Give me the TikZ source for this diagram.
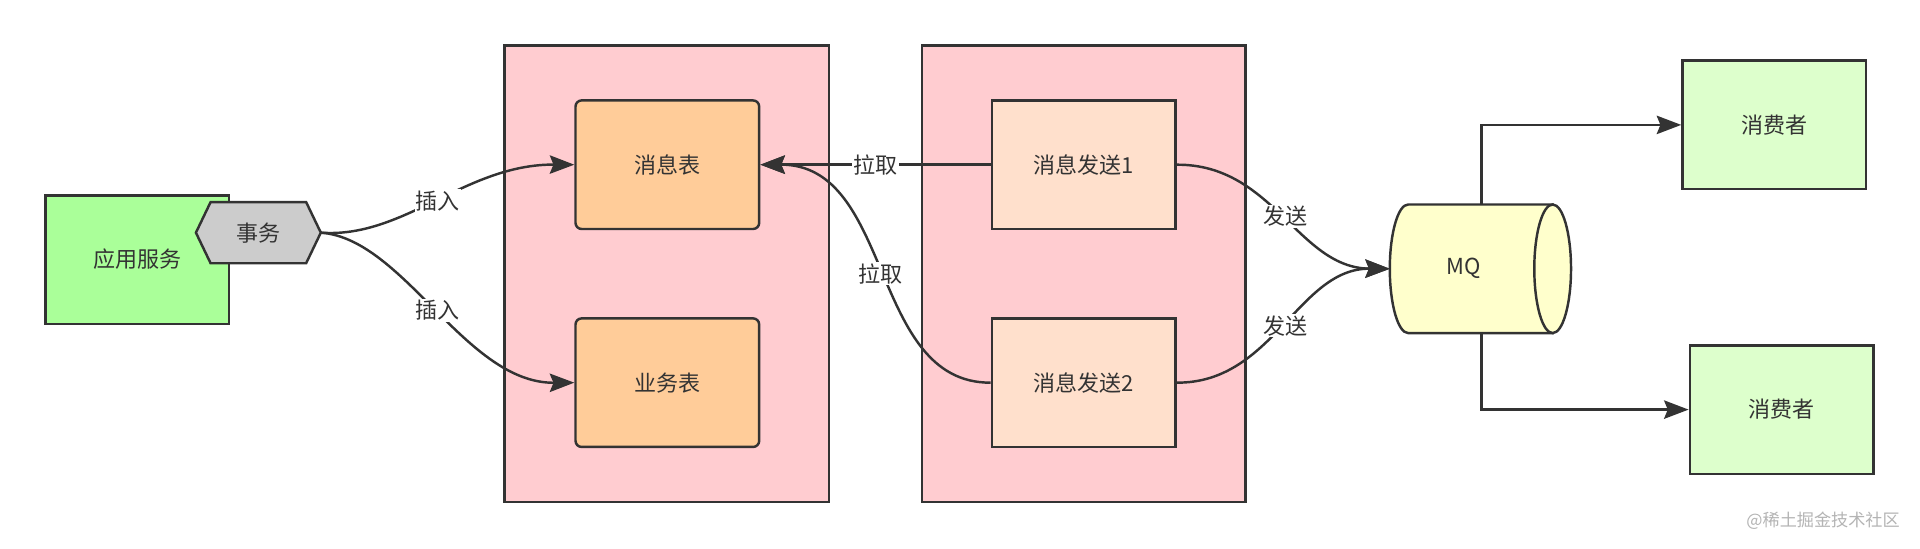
\documentclass[tikz,border=0pt]{standalone}
\usepackage{fontspec}
\setmainfont{Noto Sans CJK SC}
\usetikzlibrary{arrows.meta}
\definecolor{edge}{HTML}{333333}
\begin{document}
\begin{tikzpicture}[x=1pt,y=-1pt,
  box/.style={draw=edge,line width=2pt,minimum width=150pt,minimum height=105pt,font=\fontsize{18}{21}\selectfont,text=edge},
  rbox/.style={box,rounded corners=5pt},
  cont/.style={draw=edge,line width=2pt,fill=pinkc},
  arr/.style={draw=edge,line width=2pt,-{Stealth[length=20pt,width=15pt,inset=3pt]}},
  lab/.style={fill=white,inner sep=1pt,font=\fontsize{18}{21}\selectfont,text=edge},
  txt/.style={font=\fontsize{18}{21}\selectfont,text=edge}]
\definecolor{pinkc}{HTML}{FFCCD0}
\useasboundingbox (0,0) rectangle (1568,448);
\fill[white] (0,0) rectangle (1568,448);
\draw[cont] (412,37) rectangle (677,410);
\draw[cont] (753,37) rectangle (1017,410);
\node[box,fill={rgb,255:red,170;green,255;blue,153}] (app) at (112,212) {应用服务};
\draw[line width=2pt,draw=edge,fill={rgb,255:red,204;green,204;blue,204}] (160,190) -- (172,165) -- (250,165) -- (262,190) -- (250,215) -- (172,215) -- cycle;
\node[txt] (tx) at (211,190) {事务};
\coordinate (txr) at (262,190);
\node[rbox,fill={rgb,255:red,255;green,204;blue,153}] (msg) at (545,134.5) {消息表};
\node[rbox,fill={rgb,255:red,255;green,204;blue,153}] (biz) at (545,312.5) {业务表};
\node[box,fill={rgb,255:red,255;green,224;blue,204}] (s1) at (885,134.5) {消息发送1};
\node[box,fill={rgb,255:red,255;green,224;blue,204}] (s2) at (885,312.5) {消息发送2};
\draw[draw=edge,line width=2pt,fill={rgb,255:red,255;green,255;blue,204}]
  (1150,167) arc[start angle=-90,end angle=-270,x radius=15,y radius=52.5] -- (1268,272) -- (1268,167) -- cycle;
\draw[draw=edge,line width=2pt,fill={rgb,255:red,255;green,255;blue,204}] (1268,219.5) ellipse[x radius=15,y radius=52.5];
\node[txt] (mq) at (1195,219.5) {MQ};
\coordinate (mqw) at (1135,219.5);
\coordinate (mqt) at (1210,167);
\coordinate (mqb) at (1210,272);
\node[box,fill={rgb,255:red,221;green,255;blue,204}] (c1) at (1449,102) {消费者};
\node[box,fill={rgb,255:red,221;green,255;blue,204}] (c2) at (1455,334.5) {消费者};
\draw[arr] (txr) .. controls (330,195) and (380,134) .. (msg.west) node[lab,pos=0.5] {插入};
\draw[arr] (txr) .. controls (330,195) and (380,313) .. (biz.west) node[lab,pos=0.5] {插入};
\draw[arr] (s1.west) -- (msg.east) node[lab,pos=0.5] {拉取};
\draw[arr] (s2.west) .. controls (710,313) and (730,134) .. (msg.east) node[lab,pos=0.5] {拉取};
\draw[arr] (s1.east) .. controls (1040,134) and (1060,219) .. (mqw) node[lab,pos=0.5] {发送};
\draw[arr] (s2.east) .. controls (1040,313) and (1060,219) .. (mqw) node[lab,pos=0.5] {发送};
\draw[arr] (mqt) |- (c1.west);
\draw[arr] (mqb) |- (c2.west);
\node[font=\fontsize{14}{16}\selectfont,text={rgb,255:red,180;green,180;blue,180},anchor=east] at (1555,425) {@稀土掘金技术社区};
\end{tikzpicture}
\end{document}
